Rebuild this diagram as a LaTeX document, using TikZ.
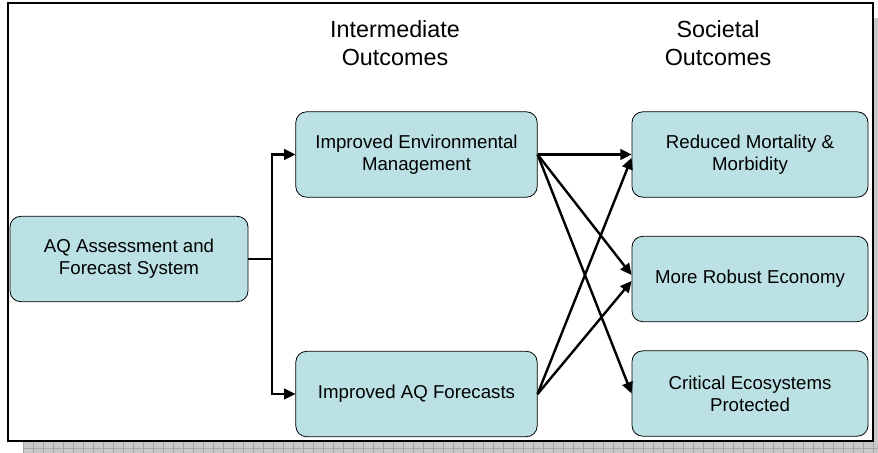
\documentclass[tikz,border=0pt]{standalone}
\usepackage{fontspec}
\setmainfont{Liberation Sans}
\usetikzlibrary{positioning}
\usetikzlibrary{arrows.meta}
\definecolor{boxcyan}{RGB}{187,225,228}
\definecolor{shadowgray}{RGB}{200,200,200}
\tikzset{
        boxnode/.style={align=center,inner sep=0pt},
        % Outcome boxes
        node_box/.style={boxnode, rectangle, rounded corners=8pt, draw=black, line width=0.6pt, fill=boxcyan, minimum height=64pt, font=\fontsize{14}{16.3}\selectfont},
        % Column headers
        node_header/.style={boxnode, font=\fontsize{17.5}{20.5}\selectfont},
        % Connectors
        link_line/.style={line width=1.8pt},
        link_arrow/.style={link_line, -{Triangle[length=8.5pt, width=8pt]}}
}
\begin{document}
\begin{tikzpicture}[x=0.75pt, y=-0.75pt]
            \useasboundingbox (0,0) rectangle (878,453);
            \clip (0,0) rectangle (878,453);
            % shadow of the frame
            \fill[shadowgray] (23,18) rectangle (890,460);
            \foreach \gx in {23,33,...,893}
                \draw[gray!70, line width=0.4pt] (\gx,18) -- (\gx,460);
            \foreach \gy in {448,458}
                \draw[gray!70, line width=0.4pt] (23,\gy) -- (890,\gy);
            \draw[black, line width=1.5pt, fill=white] (8,3) rectangle (873,441);
            % headers
            \node[node_header] (head_inter) at (395,43) {Intermediate\\Outcomes};
            \node[node_header] (head_soc) at (718,43) {Societal\\Outcomes};
            % boxes
            \node[node_box, minimum width=178.5pt] (aq) at (129,259) {AQ Assessment and\\Forecast System};
            \node[node_box, minimum width=181pt] (env) at (416.5,154.5) {Improved Environmental\\Management};
            \node[node_box, minimum width=181pt] (fcst) at (416.5,394) {Improved AQ Forecasts};
            \node[node_box, minimum width=177pt] (red) at (750,154.5) {Reduced Mortality \&\\Morbidity};
            \node[node_box, minimum width=177pt] (rob) at (750,279) {More Robust Economy};
            \node[node_box, minimum width=177pt] (crit) at (750,393.5) {Critical Ecosystems\\Protected};
            % connectors
            \coordinate (split) at (272,259);
            \draw[link_line] (aq.east) -- (split);
            \draw[link_arrow] (split) |- (env.west);
            \draw[link_arrow] (split) |- (fcst.west);
            \draw[link_arrow] (env.east) -- (red.west);
            \draw[link_arrow] (env.east) -- ([yshift=3pt]rob.west);
            \draw[link_arrow] (env.east) -- (crit.west);
            \draw[link_arrow] (fcst.east) -- ([yshift=-2.5pt]red.west);
            \draw[link_arrow] (fcst.east) -- ([yshift=-1.5pt]rob.west);
\end{tikzpicture}
\end{document}
